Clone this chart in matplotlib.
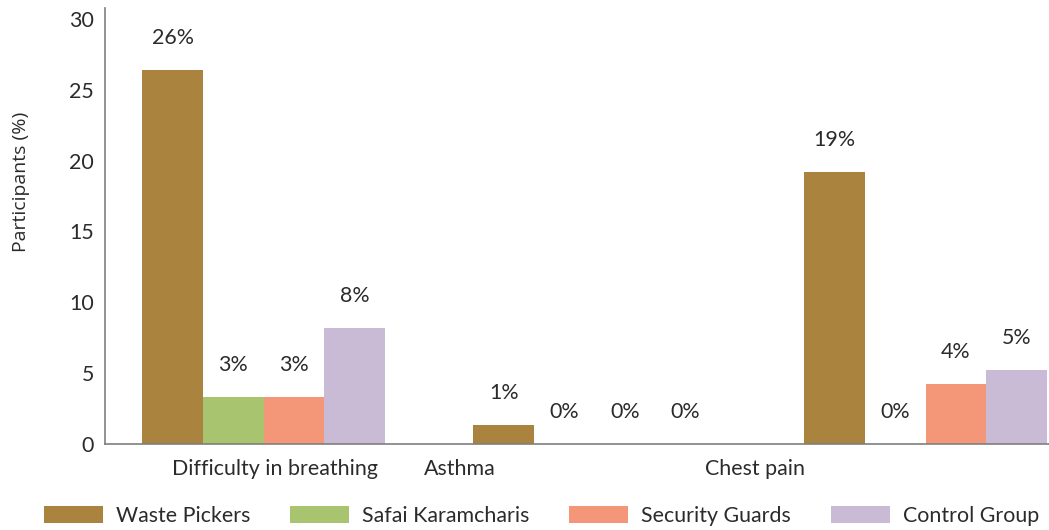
import numpy as np
import matplotlib
matplotlib.use('Agg')
import matplotlib.pyplot as plt

categories = ['Difficulty in breathing', 'Asthma', 'Chest pain']
series = ['Waste Pickers', 'Safai Karamcharis', 'Security Guards', 'Control Group']
waste_pickers = [26.4, 1.3, 19.2]
safai_karamcharis = [3.3, 0.0, 0.0]
security_guards = [3.3, 0.0, 4.2]
control_group = [8.2, 0.0, 5.2]
colors = ['#AA843F', '#A9C46F', '#F49779', '#C9BBD5']

# category labels sit offset from the bar groups in the original
label_pos = [0.035, 0.594, 1.485]

plt.rcParams['font.family'] = 'Lato'
text_color = '#2b2b2b'
fs = 15.4

fig = plt.figure(figsize=(10.49, 5.30), dpi=100)
ax = fig.add_axes([105 / 1049, 1 - 443.5 / 530, 944 / 1049, 435.5 / 530])

x = np.arange(len(categories))
width = 0.183
all_vals = [waste_pickers, safai_karamcharis, security_guards, control_group]
for i, (name, vals) in enumerate(zip(series, all_vals)):
    pos = x + (i - 1.5) * width
    ax.bar(pos, vals, width, color=colors[i], label=name, zorder=2)
    for p, v in zip(pos, vals):
        ax.annotate(f'{v:.0f}%', (p, v), xytext=(0, 23), textcoords='offset points',
                    ha='center', va='center', fontsize=fs, color=text_color)

ax.set_xlim(-0.479, 2.373)
ax.set_ylim(0, 30.8)
ax.set_yticks([0, 5, 10, 15, 20, 25, 30])
ax.set_xticks(label_pos)
ax.set_xticklabels(categories)
ax.tick_params(axis='both', length=0, labelsize=fs, colors=text_color)
ax.tick_params(axis='x', pad=11)
ax.tick_params(axis='y', pad=8)
for s in ['top', 'right']:
    ax.spines[s].set_visible(False)
for s in ['left', 'bottom']:
    ax.spines[s].set_color('#7f7f7f')
    ax.spines[s].set_linewidth(1.2)
    ax.spines[s].set_zorder(3)

ax.set_ylabel('Participants (%)', fontsize=14, color=text_color, family='Open Sans')
ax.yaxis.set_label_coords(-75 / 944, 0.6)

leg = fig.legend(loc='lower left', bbox_to_anchor=(25 / 1049, -0.028), ncol=4, frameon=False,
                 fontsize=fs, handlelength=2.75, handleheight=0.85, handletextpad=0.62,
                 columnspacing=1.85)
for t in leg.get_texts():
    t.set_color(text_color)

fig.savefig('out.png', dpi=100)
